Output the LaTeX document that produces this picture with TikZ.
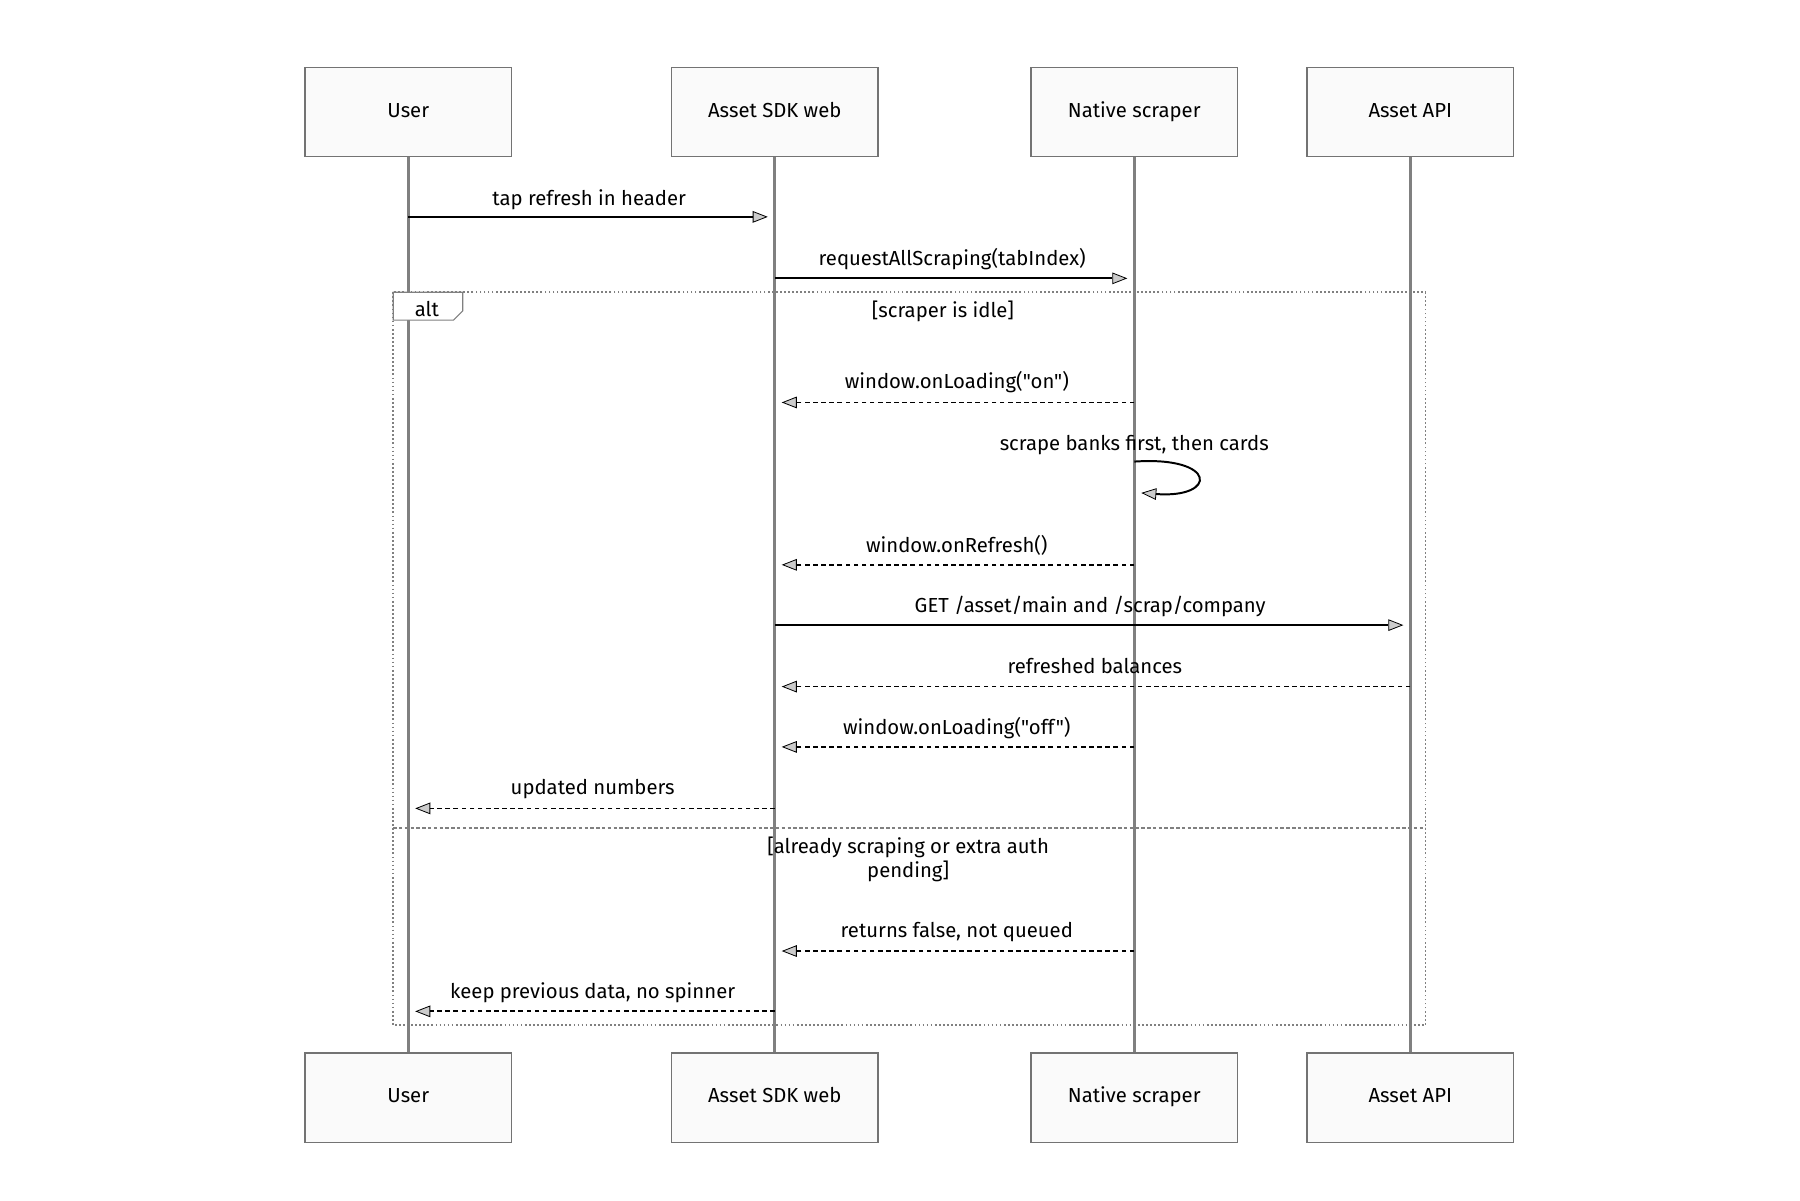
\documentclass[tikz,border=0pt]{standalone}
\usepackage{fontspec}
\setmainfont{Fira Sans}[Ligatures=TeXOff]
\usetikzlibrary{arrows.meta}
\begin{document}
\begin{tikzpicture}[x=1pt,y=-1pt,
  font=\fontsize{17.5}{21}\selectfont,
  actor/.style={draw=black!55,fill=black!2,line width=1.2pt,minimum width=178pt,minimum height=77pt,inner sep=0pt,text height=12pt,text depth=3pt},
  life/.style={draw=black!50,line width=2.4pt},
  tip/.style={-{Triangle[open,width=10pt,length=13pt,fill=black!20,line width=0.7pt]}},
  msg/.style={tip,line width=1.7pt},
  ret/.style={tip,line width=1.5pt,dash pattern=on 4pt off 3pt},
  lbl/.style={inner sep=0pt,anchor=base}]
\useasboundingbox (0,0) rectangle (1552,1035);
\foreach \n/\x/\t in {u/352/User,s/668/Asset SDK web,n/978/Native scraper,a/1216/Asset API}{
  \node[actor] (\n t) at (\x,96.5) {\t};
  \node[actor] (\n b) at (\x,946.5) {\t};
  \draw[life] (\n t.south) -- (\n b.north);
}
\draw[black!50,line width=1.4pt,dash pattern=on 1.5pt off 2pt] (339,252) rectangle (1229,884);
\draw[black!50,line width=1pt,fill=white] (339,252) -- (399,252) -- (399,268) -- (391,276) -- (339,276) -- cycle;
\node[lbl] (alt) at (368,273) {alt};
\node[lbl] (c1) at (813,274) {[scraper is idle]};
\draw[black!50,line width=1.4pt,dash pattern=on 3pt off 2pt] (339,714) -- (1229,714);
\node[align=center,inner sep=0pt] (c2) at (783,741) {[already scraping or extra auth\\pending]};
\foreach \n/\x in {u/352,s/668,n/978,a/1216}{
  \foreach \y in {187,240,347,487,539,592,644,697,820,872}{
    \coordinate (\n\y) at (\x,\y);
  }
}
\draw[msg] (u187) -- ([xshift=-6pt]s187);
\node[lbl] (m1) at (508,177) {tap refresh in header};
\draw[msg] (s240) -- ([xshift=-6pt]n240);
\node[lbl] (m2) at (821,229) {requestAllScraping(tabIndex)};
\draw[ret] (n347) -- ([xshift=6pt]s347);
\node[lbl] (m3) at (825,335) {window.onLoading("on")};
\node[lbl] (m4) at (978,388) {scrape banks first, then cards};
\coordinate (l0) at (978,398);
\coordinate (l1) at (984,425);
\draw[msg] (l0) .. controls (1050,393) and (1050,430) .. (l1);
\draw[ret] (n487) -- ([xshift=6pt]s487);
\node[lbl] (m5) at (825,476) {window.onRefresh()};
\draw[msg] (s539) -- ([xshift=-6pt]a539);
\node[lbl] (m6) at (940,528) {GET /asset/main and /scrap/company};
\draw[ret] (a592) -- ([xshift=6pt]s592);
\node[lbl] (m7) at (944,581) {refreshed balances};
\draw[ret] (n644) -- ([xshift=6pt]s644);
\node[lbl] (m8) at (825,633) {window.onLoading("off")};
\draw[ret] (s697) -- ([xshift=6pt]u697);
\node[lbl] (m9) at (511,685) {updated numbers};
\draw[ret] (n820) -- ([xshift=6pt]s820);
\node[lbl] (m10) at (825,808) {returns false, not queued};
\draw[ret] (s872) -- ([xshift=6pt]u872);
\node[lbl] (m11) at (511,861) {keep previous data, no spinner};
\end{tikzpicture}
\end{document}
